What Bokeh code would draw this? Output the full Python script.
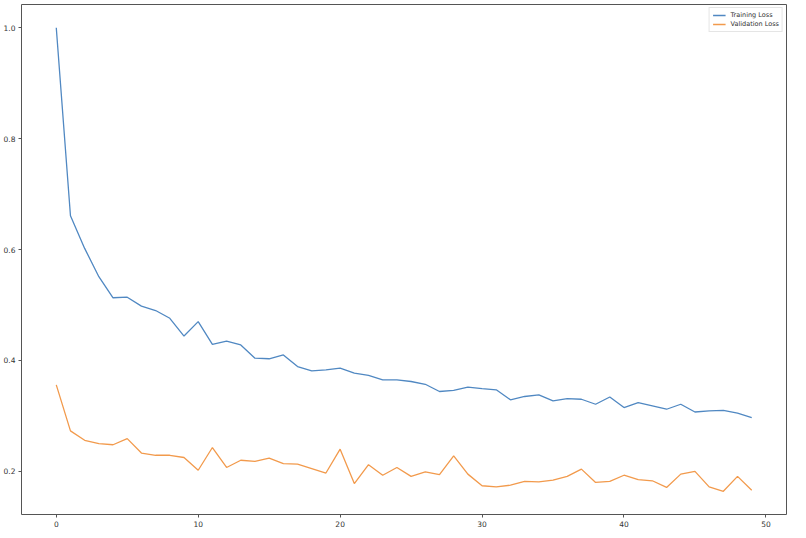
from bokeh.plotting import figure
from bokeh.embed import file_html
from bokeh.resources import INLINE
from bokeh.models import FixedTicker, PrintfTickFormatter, Range1d, Legend, LegendItem

epochs = list(range(50))
training_loss = [1.000, 0.661, 0.602, 0.551, 0.513, 0.514, 0.498, 0.490, 0.476, 0.444,
                 0.470, 0.429, 0.435, 0.428, 0.404, 0.403, 0.410, 0.389, 0.381, 0.383,
                 0.386, 0.377, 0.373, 0.365, 0.365, 0.362, 0.357, 0.344, 0.346, 0.352,
                 0.349, 0.347, 0.329, 0.335, 0.338, 0.327, 0.331, 0.330, 0.321, 0.334,
                 0.315, 0.324, 0.318, 0.312, 0.321, 0.307, 0.309, 0.310, 0.305, 0.297]
validation_loss = [0.356, 0.273, 0.256, 0.250, 0.248, 0.259, 0.233, 0.229, 0.229, 0.225,
                   0.202, 0.243, 0.207, 0.220, 0.218, 0.224, 0.214, 0.213, 0.205, 0.197,
                   0.240, 0.178, 0.212, 0.193, 0.207, 0.191, 0.199, 0.194, 0.228, 0.195,
                   0.174, 0.172, 0.175, 0.182, 0.181, 0.184, 0.191, 0.204, 0.180, 0.182,
                   0.193, 0.185, 0.183, 0.171, 0.195, 0.200, 0.172, 0.164, 0.191, 0.166]
x_ticks = [0, 10, 20, 30, 40, 50]
y_ticks = [0.2, 0.4, 0.6, 0.8, 1.0]
series_names = ["Training Loss", "Validation Loss"]
series_colors = ["#5088c2", "#f29a4c"]

p = figure(width=806, height=538, output_backend="svg", toolbar_location=None,
           x_range=Range1d(-2.45, 51.45), y_range=Range1d(0.1222, 1.0418),
           min_border_left=2, min_border_right=20, min_border_top=4, min_border_bottom=24)

p.xgrid.visible = False
p.ygrid.visible = False
p.outline_line_color = "#555555"
p.outline_line_width = 1
p.background_fill_color = "white"
p.border_fill_color = "white"

for ax in (p.xaxis, p.yaxis):
    ax.axis_line_color = None
    ax.major_tick_out = 3
    ax.major_tick_in = 0
    ax.minor_tick_line_color = None
    ax.major_tick_line_color = "#555555"
    ax.major_label_text_font = "DejaVu Sans"
    ax.major_label_text_font_size = "7.5px"
    ax.major_label_text_color = "#333333"
    ax.major_label_standoff = 3

p.xaxis.ticker = FixedTicker(ticks=x_ticks)
p.yaxis.ticker = FixedTicker(ticks=y_ticks)
p.xaxis.formatter = PrintfTickFormatter(format="%d")
p.yaxis.formatter = PrintfTickFormatter(format="%.1f")

r1 = p.line(epochs, training_loss, line_color=series_colors[0], line_width=1.3)
r2 = p.line(epochs, validation_loss, line_color=series_colors[1], line_width=1.3)

legend = Legend(items=[LegendItem(label=series_names[0], renderers=[r1]),
                       LegendItem(label=series_names[1], renderers=[r2])],
                location="top_right")
legend.label_text_font = "DejaVu Sans"
legend.label_text_font_size = "6.5px"
legend.label_text_color = "#333333"
legend.glyph_width = 13
legend.glyph_height = 8
legend.label_height = 8
legend.label_standoff = 5
legend.spacing = 1
legend.padding = 3
legend.margin = 3
legend.border_line_color = "#cccccc"
legend.border_line_width = 1
legend.background_fill_alpha = 0.9
p.add_layout(legend)

open("out.html", "w").write(file_html(p, INLINE))
